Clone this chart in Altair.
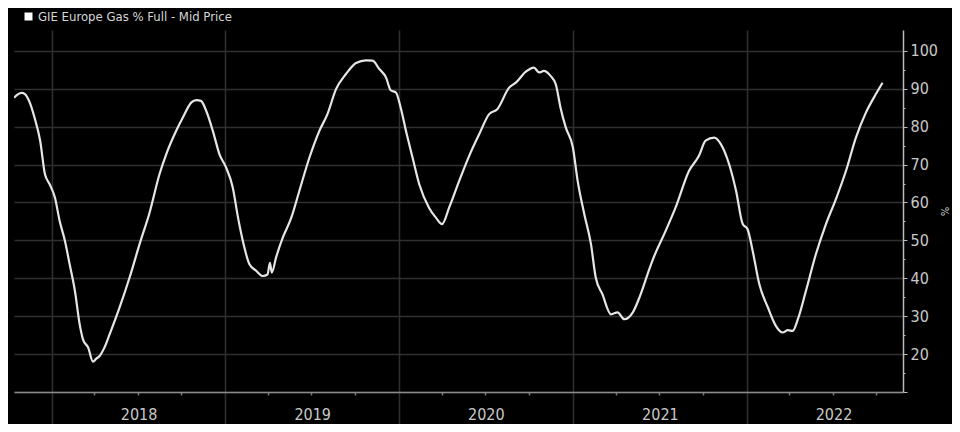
import altair as alt
import pandas as pd

# ---- data ----
dates = [
    "2017-10-14", "2017-10-22", "2017-10-30", "2017-11-06", "2017-11-16", "2017-11-27",
    "2017-12-08", "2017-12-18", "2017-12-28", "2018-01-08", "2018-01-18", "2018-01-29",
    "2018-02-08", "2018-02-19", "2018-03-01", "2018-03-08", "2018-03-19", "2018-03-29",
    "2018-04-05", "2018-04-12", "2018-04-22", "2018-05-03", "2018-05-24", "2018-06-14",
    "2018-07-05", "2018-07-26", "2018-08-16", "2018-08-30", "2018-09-20", "2018-10-04",
    "2018-10-22", "2018-11-01", "2018-11-11", "2018-11-22", "2018-12-06", "2018-12-20",
    "2019-01-03", "2019-01-17", "2019-01-28", "2019-02-07", "2019-02-21", "2019-03-07",
    "2019-03-21", "2019-03-31", "2019-04-05", "2019-04-09", "2019-04-18", "2019-05-02",
    "2019-05-20", "2019-06-06", "2019-06-27", "2019-07-18", "2019-08-04", "2019-08-22",
    "2019-09-12", "2019-10-03", "2019-10-24", "2019-11-07", "2019-11-21", "2019-12-05",
    "2019-12-15", "2019-12-26", "2020-01-05", "2020-01-16", "2020-01-30", "2020-02-13",
    "2020-03-05", "2020-03-19", "2020-04-01", "2020-04-16", "2020-05-07", "2020-05-28",
    "2020-06-18", "2020-07-09", "2020-07-26", "2020-08-20", "2020-09-03", "2020-09-24",
    "2020-10-11", "2020-10-22", "2020-11-01", "2020-11-15", "2020-11-26", "2020-12-06",
    "2020-12-17", "2021-01-01", "2021-01-11", "2021-01-25", "2021-02-08", "2021-02-18",
    "2021-03-04", "2021-03-22", "2021-04-05", "2021-04-19", "2021-05-07", "2021-05-22",
    "2021-06-07", "2021-06-17", "2021-07-15", "2021-08-05", "2021-09-02", "2021-09-23",
    "2021-10-07", "2021-10-25", "2021-11-08", "2021-11-22", "2021-12-10", "2021-12-24",
    "2022-01-03", "2022-01-14", "2022-01-28", "2022-02-15", "2022-03-04", "2022-03-18",
    "2022-03-29", "2022-04-08", "2022-04-19", "2022-05-06", "2022-05-27", "2022-06-17",
    "2022-07-08", "2022-07-29", "2022-08-19", "2022-09-09", "2022-09-30", "2022-10-14",
]
pct_full = [
    87.6, 88.5, 88.9, 88.6, 86.4, 82.0,
    76.3, 67.5, 64.8, 61.3, 55.1, 49.9,
    43.7, 36.7, 27.9, 23.9, 21.7, 18.0,
    18.8, 19.5, 21.7, 25.2, 32.3, 40.2,
    49.0, 57.3, 67.5, 72.7, 78.9, 82.4,
    86.4, 87.0, 86.8, 84.2, 78.9, 72.7,
    69.2, 63.9, 56.0, 49.9, 43.7, 42.0,
    40.6, 41.0, 44.1, 41.5, 45.5, 50.7,
    56.0, 63.1, 71.8, 78.9, 83.3, 89.9,
    93.9, 96.8, 97.5, 97.4, 95.2, 93.0,
    89.6, 89.0, 85.0, 78.9, 71.8, 64.8,
    58.5, 56.0, 54.3, 58.7, 65.7, 72.3,
    78.0, 83.3, 84.6, 90.3, 91.6, 94.5,
    95.6, 94.3, 94.7, 93.4, 91.2, 85.0,
    79.8, 74.5, 65.7, 56.9, 49.0, 40.2,
    35.8, 30.5, 31.0, 29.2, 31.0, 35.3,
    41.1, 44.6, 52.5, 58.7, 68.3, 72.3,
    76.3, 77.1, 75.4, 71.4, 63.1, 54.3,
    53.0, 47.2, 38.4, 32.3, 27.4, 25.7,
    26.3, 26.1, 29.2, 36.7, 46.4, 54.3,
    60.9, 68.3, 77.1, 83.7, 88.6, 91.6,
]
series_name = "GIE Europe Gas % Full - Mid Price"
tick_years = [2018, 2019, 2020, 2021, 2022]
tick_months = [1, 4, 7, 10]
y_ticks = list(range(10, 101, 5))

df = pd.DataFrame({"date": dates, "pct": pct_full, "series": series_name})

W, H = 889, 362
FONT = "DejaVu Sans Condensed"
LABEL = "#c9c9c9"
GRID = "#303030"

x_values = [alt.DateTime(year=y, month=m, date=1, utc=True) for y in tick_years for m in tick_months]
is_year = "utcmonth(datum.value) == 0"
is_major = "datum.value % 10 == 0"

chart = alt.Chart(df).mark_line(strokeWidth=2.2, clip=True, interpolate="monotone").encode(
    x=alt.X(
        "date:T",
        scale=alt.Scale(
            type="utc",
            domain=[alt.DateTime(year=2017, month=10, date=14, utc=True),
                    alt.DateTime(year=2022, month=11, date=26, utc=True)],
        ),
        axis=alt.Axis(
            values=x_values,
            title=None,
            grid=True,
            gridColor=GRID,
            gridWidth=1.5,
            gridOpacity={"condition": {"test": is_year, "value": 1}, "value": 0},
            labelExpr=f"{is_year} ? utcFormat(datum.value, '%Y') : ''",
            labelOffset=87,
            labelFlush=False,
            labelOverlap=False,
            labelBound=False,
            labelFont=FONT,
            labelFontSize=16,
            labelColor=LABEL,
            labelPadding=-18,
            tickSize={"condition": {"test": is_year, "value": 32}, "value": 3},
            tickColor={"condition": {"test": is_year, "value": GRID}, "value": "#777"},
            tickWidth=1.5,
            domainColor="#8a8a8a",
            domainWidth=1.5,
        ),
    ),
    y=alt.Y(
        "pct:Q",
        scale=alt.Scale(domain=[10, 105.5], nice=False, zero=False),
        axis=alt.Axis(
            orient="right",
            values=y_ticks,
            title="%",
            titleColor=LABEL,
            titleFont=FONT,
            titleFontSize=11,
            titleFontWeight="normal",
            titlePadding=1,
            grid=True,
            gridColor=GRID,
            gridWidth=1.5,
            gridOpacity={"condition": {"test": is_major, "value": 1}, "value": 0},
            labelExpr=f"datum.value >= 20 && {is_major} ? datum.value : ''",
            labelFont=FONT,
            labelFontSize=16,
            labelColor=LABEL,
            labelPadding=3,
            tickSize={"condition": {"test": is_major, "value": 4}, "value": 2},
            tickColor="#bbbbbb",
            domainColor="#bbbbbb",
            domainWidth=1.5,
        ),
    ),
    color=alt.Color(
        "series:N",
        scale=alt.Scale(range=["#e6e6e6"]),
        legend=alt.Legend(
            orient="none",
            legendX=8,
            legendY=-20,
            title=None,
            symbolType="square",
            symbolSize=64,
            symbolFillColor="#ffffff",
            symbolStrokeColor="#ffffff",
            symbolStrokeWidth=0,
            labelFont=FONT,
            labelFontSize=13,
            labelColor="#d6d6d6",
            labelOffset=3,
            labelLimit=0,
            padding=0,
        ),
    ),
).properties(
    width=W,
    height=H,
    autosize=alt.AutoSizeParams(type="none"),
    padding={"left": 6, "top": 22, "right": 49, "bottom": 32},
    background="#000000",
).configure_view(strokeWidth=0)

chart.save("out.html", embed_options={"renderer": "svg", "actions": False})
